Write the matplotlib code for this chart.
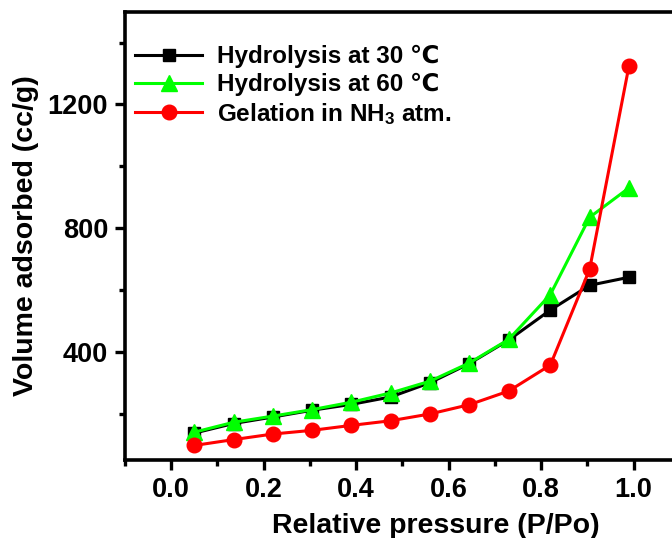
import matplotlib
matplotlib.use("Agg")
import matplotlib.pyplot as plt

plt.rcParams['font.family'] = ['Liberation Sans', 'DejaVu Sans']
plt.rcParams['font.weight'] = 'bold'
plt.rcParams['mathtext.fontset'] = 'custom'
plt.rcParams['mathtext.rm'] = 'Liberation Sans:bold'
plt.rcParams['mathtext.bf'] = 'Liberation Sans:bold'
plt.rcParams['mathtext.default'] = 'rm'

pressure = [0.05, 0.135, 0.22, 0.305, 0.39, 0.475, 0.56, 0.645, 0.73, 0.82, 0.905, 0.99]
hyd30 = [137, 168, 189, 211, 230, 254, 300, 362, 438, 535, 615, 641]
hyd60 = [140, 172, 192, 213, 237, 267, 305, 364, 440, 585, 835, 930]
nh3 = [97, 116, 134, 146, 162, 177, 199, 229, 273, 357, 667, 1324]

labels = ["Hydrolysis at 30 \u2103", "Hydrolysis at 60 \u2103", "Gelation in NH$_3$ atm."]

fig = plt.figure(figsize=(6.72, 5.38), dpi=100)
ax = fig.add_axes([124.9/672, 78/538, (679.8-124.9)/672, (460-11.7)/538])

ax.plot(pressure, hyd30, color='black', lw=2.2, marker='s', ms=9, label=labels[0])
ax.plot(pressure, hyd60, color='#00ff00', lw=2.2, marker='^', ms=11, label=labels[1])
ax.plot(pressure, nh3, color='red', lw=2.2, marker='o', ms=10.5, label=labels[2])

ax.set_xlim(-0.1, 1.1)
ax.set_ylim(50, 1500)
ax.set_xticks([0.0, 0.2, 0.4, 0.6, 0.8, 1.0])
ax.set_xticks([-0.1, 0.1, 0.3, 0.5, 0.7, 0.9, 1.1], minor=True)
ax.set_yticks([400, 800, 1200])
ax.set_yticks([200, 600, 1000, 1400], minor=True)
ax.set_xticklabels(['0.0', '0.2', '0.4', '0.6', '0.8', '1.0'])

for s in ax.spines.values():
    s.set_linewidth(2.6)
ax.tick_params(which='major', direction='out', length=7, width=2.4, labelsize=19.5, pad=5)
ax.tick_params(which='minor', direction='out', length=4.5, width=2.4)

ax.set_xlabel('Relative pressure (P/Po)', fontsize=20.5, fontweight='bold')
ax.xaxis.set_label_coords(0.5606, -0.118)
ax.set_ylabel('Volume adsorbed (cc/g)', fontsize=20.5, fontweight='bold', labelpad=6)

ax.legend(loc='upper left', frameon=False, fontsize=17.5, handlelength=2.75,
          labelspacing=0.2, borderaxespad=0.3, handletextpad=0.6,
          bbox_to_anchor=(-0.012, 0.964))

fig.savefig('out.png', dpi=100)
